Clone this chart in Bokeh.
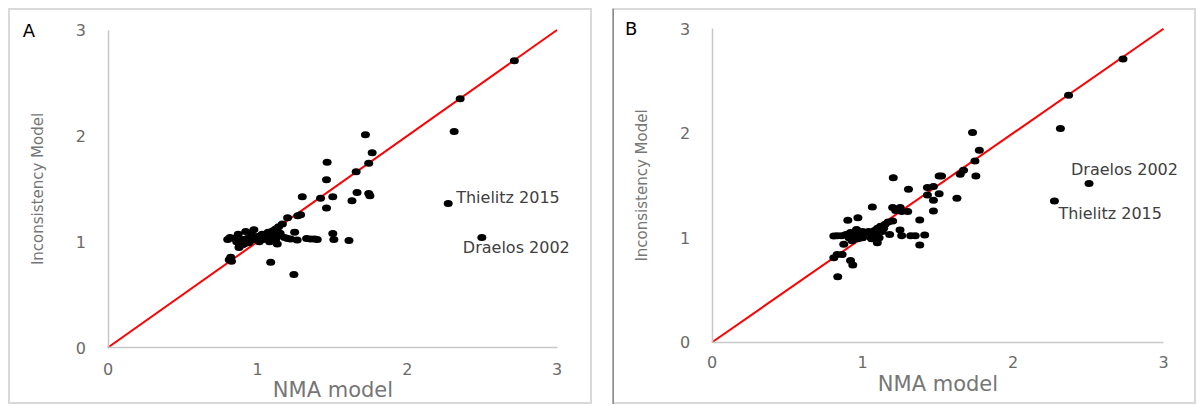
from bokeh.plotting import figure
from bokeh.layouts import row, column
from bokeh.models import Spacer, FixedTicker, Label, Range1d, Span
from bokeh.embed import file_html
from bokeh.resources import INLINE

# ---------------- data ----------------
ticks = [0, 1, 2, 3]
axis_limits = [0, 3]
x_title = "NMA model"
y_title = "Inconsistency Model"
panel_letters = ["A", "B"]

# Panel A: NMA model (x) vs Inconsistency model (y)
a_nma = [2.715, 2.353, 2.313, 2.273, 2.498,
         1.72, 1.765, 1.464, 1.742, 1.658, 1.46, 1.298, 1.42, 1.502, 1.664,
         1.742, 1.75, 1.63, 1.46, 1.287, 1.268, 1.2, 1.165,
         1.14, 1.12, 1.10, 1.08, 1.06, 1.05,
         1.247, 1.502, 1.509, 1.61, 1.398, 1.38, 1.353, 1.327, 1.264, 1.22,
         1.20, 1.18, 1.131, 1.087, 1.242,
         0.82, 0.825, 0.81, 0.815, 0.80, 0.845, 0.92, 0.975, 0.875, 0.898,
         0.88, 0.86, 0.90, 0.93, 0.95, 0.97, 0.99, 1.00, 1.02, 1.03, 1.04,
         1.06, 1.07, 1.09, 1.10, 1.11, 1.12, 1.13, 1.15, 0.94, 0.96, 1.01,
         1.08, 0.87, 0.91]
a_inc = [2.71, 2.35, 2.04, 1.36, 1.04,
         2.01, 1.84, 1.75, 1.74, 1.66, 1.585, 1.425, 1.41, 1.425, 1.465,
         1.455, 1.435, 1.387, 1.318, 1.255, 1.245, 1.225, 1.167,
         1.14, 1.12, 1.10, 1.08, 1.07, 1.05,
         1.088, 1.078, 1.02, 1.01, 1.02, 1.025, 1.025, 1.03, 1.016, 1.025,
         1.03, 1.04, 0.978, 0.805, 0.69,
         0.852, 0.815, 0.83, 1.04, 1.02, 1.03, 1.097, 1.113, 0.946, 0.972,
         0.96, 1.00, 1.02, 1.03, 1.01, 1.04, 1.02, 1.05, 1.03, 1.07, 1.02,
         1.04, 1.09, 1.05, 1.03, 1.07, 1.02, 1.05, 1.08, 0.99, 1.06, 1.00,
         1.00, 1.07, 0.98]

# Panel B
b_nma = [2.731, 2.369, 2.315, 2.505, 2.275,
         1.731, 1.776, 1.747, 1.671, 1.649, 1.753, 1.509, 1.525, 1.204, 1.305,
         1.431, 1.471, 1.431, 1.509, 1.471, 1.627, 1.471, 1.065, 1.20, 1.25,
         1.22, 1.26, 1.30, 1.38, 0.969, 0.902,
         1.20, 1.17, 1.15, 1.12, 1.10,
         1.249, 1.413, 1.35, 1.32, 1.26, 1.18, 1.38, 1.098,
         0.809, 0.831, 0.875, 0.809, 0.831, 0.864, 0.92, 0.935, 0.835,
         0.86, 0.89, 0.91, 0.93, 0.95, 0.96, 0.98, 1.00, 1.02, 1.04, 1.05,
         1.07, 1.08, 1.09, 1.11, 1.13, 1.14, 0.94, 1.00, 0.97, 1.06, 0.92]
b_inc = [2.71, 2.365, 2.045, 1.518, 1.352,
         2.007, 1.838, 1.735, 1.646, 1.608, 1.592, 1.592, 1.592, 1.575, 1.464,
         1.48, 1.49, 1.41, 1.422, 1.359, 1.378, 1.256, 1.294, 1.29, 1.29,
         1.26, 1.25, 1.25, 1.17, 1.192, 1.167,
         1.16, 1.15, 1.13, 1.11, 1.09,
         1.074, 1.026, 1.02, 1.02, 1.02, 1.03, 0.93, 0.952,
         1.016, 1.02, 0.937, 0.808, 0.84, 0.84, 0.783, 0.738, 0.626,
         1.02, 1.03, 1.00, 0.97, 1.05, 1.08, 1.02, 1.00, 1.04, 1.06, 1.01,
         1.03, 1.07, 1.05, 1.00, 1.06, 1.09, 1.02, 1.06, 0.99, 0.99, 1.05]

# labelled studies: (text, index of the point in its panel's arrays)
a_notes = [("Thielitz 2015", 3), ("Draelos 2002", 4)]
b_notes = [("Draelos 2002", 3), ("Thielitz 2015", 4)]

FONT = "DejaVu Sans"
TICK_C = "#6a6a6a"
TITLE_C = "#767676"
AXIS_C = "#c8c8c8"
PANEL_W, PANEL_H, TOP = 584, 396, 8


def panel(letter, xs, ys, notes, offsets, left_px, x0px, x3px, y0px, y3px,
          letter_dx, lab_standoff, left_border):
    # pixel geometry -> data ranges so that the frame covers the whole canvas
    ux = (x3px - x0px) / (axis_limits[1] - axis_limits[0])
    uy = (y0px - y3px) / (axis_limits[1] - axis_limits[0])
    xr = Range1d((left_px - x0px) / ux, (left_px + PANEL_W - x0px) / ux)
    yr = Range1d((y0px - (TOP + PANEL_H)) / uy, (y0px - TOP) / uy)
    p = figure(width=PANEL_W, height=PANEL_H, output_backend="svg",
               toolbar_location=None, x_range=xr, y_range=yr,
               min_border=0)
    p.outline_line_color = "#d9d9d9"
    p.outline_line_width = 3
    p.grid.visible = False
    for ax in (p.xaxis[0], p.yaxis[0]):
        ax.fixed_location = 0
        ax.ticker = FixedTicker(ticks=ticks)
        ax.bounds = (axis_limits[0], axis_limits[1])
        ax.major_tick_line_color = None
        ax.minor_tick_line_color = None
        ax.axis_line_color = AXIS_C
        ax.axis_line_width = 1.5
        ax.major_label_text_font = FONT
        ax.major_label_text_font_size = "16px"
        ax.major_label_text_color = TICK_C
        ax.axis_label_text_font = FONT
        ax.axis_label_text_font_style = "normal"
        ax.axis_label_text_color = TITLE_C
    p.xaxis.axis_label = x_title
    p.xaxis.axis_label_text_font_size = "21px"
    p.xaxis.major_label_standoff = lab_standoff
    p.xaxis.axis_label_standoff = 0
    p.yaxis.axis_label = y_title
    p.yaxis.axis_label_text_font_size = "15px"
    p.yaxis.major_label_standoff = 16
    p.yaxis.axis_label_standoff = 26

    if left_border:
        p.add_layout(Span(location=xr.start, dimension="height",
                          line_color=left_border, line_width=3))

    p.line(axis_limits, axis_limits, line_color="#ff0000", line_width=2)
    p.ellipse(x=xs, y=ys, width=9, height=7, width_units="screen",
              height_units="screen", fill_color="black", line_color=None)

    for (txt, i), (dx, dy) in zip(notes, offsets):
        p.add_layout(Label(x=xs[i], y=ys[i], text=txt, x_offset=dx,
                           y_offset=dy, text_font=FONT,
                           text_font_size="16px", text_color="#404040",
                           text_baseline="middle", text_align="left"))
    p.add_layout(Label(x=axis_limits[0], y=axis_limits[1], text=letter,
                       x_offset=letter_dx, y_offset=0, text_font=FONT,
                       text_font_size="18px", text_color="black",
                       text_align="center", text_baseline="middle"))
    return p


pa = panel(panel_letters[0], a_nma, a_inc, a_notes, [(8, 6), (-19, -10)],
           8, 107.5, 556.5, 347.0, 29.5, -79, 9, None)
pb = panel(panel_letters[1], b_nma, b_inc, b_notes, [(-18, 14), (4, -13)],
           612, 711.6, 1163.0, 341.7, 28.3, -81, 8, "#8c8c8c")

layout = column(Spacer(height=TOP),
                row(Spacer(width=8), pa, Spacer(width=20), pb))
open("out.html", "w").write(file_html(layout, INLINE))
